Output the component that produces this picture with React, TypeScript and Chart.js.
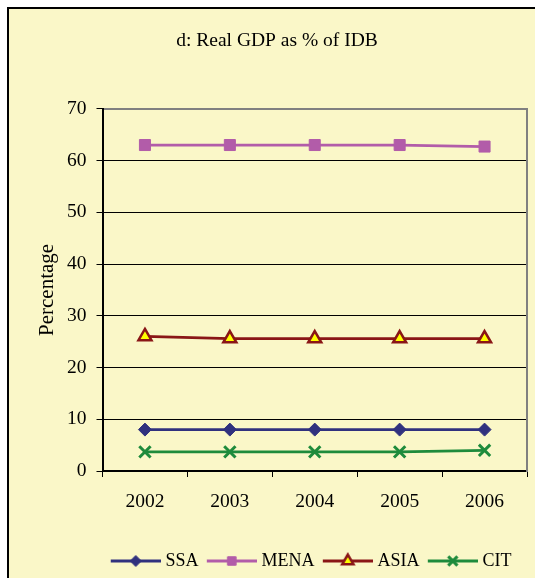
import React, { useEffect, useRef } from "react";
import { Chart, registerables } from "chart.js";
import { drawPoint } from "chart.js/helpers";

Chart.register(...registerables);

const years = ["2002", "2003", "2004", "2005", "2006"];
const ssa = [8.0, 8.0, 8.0, 8.0, 8.0];
const mena = [63.0, 63.0, 63.0, 63.0, 62.7];
const asia = [26.0, 25.6, 25.6, 25.6, 25.6];
const cit = [3.7, 3.7, 3.7, 3.7, 4.0];
const seriesNames = ["SSA", "MENA", "ASIA", "CIT"];
const yMin = 0;
const yMax = 70;
const yStep = 10;
const titleText = "d: Real GDP as % of IDB";
const yTitle = "Percentage";

const FONT = "'Liberation Serif', 'Times New Roman', serif";
const BG = "#FAF7C8";

type Marker = {
  color: string;
  fill: string;
  style: any;
  r: number;
  lr: number;
  bw: number;
};

const markers: Marker[] = [
  { color: "#30317E", fill: "#30317E", style: "rectRot", r: 6.5, lr: 5.5, bw: 1 },
  { color: "#B25CA9", fill: "#B25CA9", style: "rect", r: 7.8, lr: 6, bw: 1 },
  { color: "#8A1616", fill: "#FFFF00", style: "triangle", r: 7.5, lr: 6.5, bw: 2.5 },
  { color: "#1E8B3C", fill: "#1E8B3C", style: "crossRot", r: 8, lr: 6.5, bw: 3 },
];

// legend swatch: a 50px line with the marker in its middle, drawn on a canvas
// that has transparent room on the left so the swatch sits where Excel puts it
function legendImage(m: Marker): HTMLCanvasElement {
  const c = document.createElement("canvas");
  c.width = 62;
  c.height = 18;
  const g = c.getContext("2d")!;
  g.strokeStyle = m.color;
  g.lineWidth = 3;
  g.beginPath();
  g.moveTo(12, 9);
  g.lineTo(62, 9);
  g.stroke();
  g.fillStyle = m.fill;
  g.strokeStyle = m.color;
  g.lineWidth = m.bw;
  drawPoint(g as any, { pointStyle: m.style, radius: m.lr, rotation: 0, borderWidth: m.bw } as any, 37, 9);
  return c;
}

export default function App() {
  const ref = useRef<HTMLCanvasElement | null>(null);

  useEffect(() => {
    if (!ref.current) return;
    const values = [ssa, mena, asia, cit];
    const images = markers.map(legendImage);
    const datasets = values.map((v, i) => ({
      label: seriesNames[i],
      data: v,
      borderColor: markers[i].color,
      backgroundColor: markers[i].fill,
      borderWidth: 2.75,
      pointStyle: markers[i].style,
      pointRadius: markers[i].r,
      pointHoverRadius: markers[i].r,
      pointBackgroundColor: markers[i].fill,
      pointBorderColor: markers[i].color,
      pointBorderWidth: markers[i].bw,
      tension: 0,
      fill: false,
    }));

    const chart = new Chart(ref.current, {
      type: "line",
      data: { labels: years, datasets },
      options: {
        animation: false,
        responsive: false,
        maintainAspectRatio: false,
        layout: { padding: { left: 0, right: 0, top: 0, bottom: 19 } },
        plugins: {
          title: {
            display: true,
            text: titleText,
            color: "#000",
            font: { family: FONT, size: 19.5, weight: "normal" },
            padding: { top: 19.8, bottom: 56.6 },
          },
          legend: {
            display: true,
            position: "bottom",
            fullSize: false,
            align: "start",
            labels: {
              usePointStyle: true,
              pointStyleWidth: 53.5,
              padding: 0.5,
              color: "#000",
              font: { family: FONT, size: 18 },
              generateLabels: (ch: any) => {
                const base = Chart.defaults.plugins.legend.labels.generateLabels(ch);
                return base.map((it: any, i: number) => ({
                  ...it,
                  pointStyle: images[i],
                  lineWidth: 0,
                }));
              },
            },
          },
          tooltip: { enabled: false },
        },
        scales: {
          x: {
            type: "category",
            position: "bottom",
            offset: true,
            grid: {
              offset: true,
              drawOnChartArea: false,
              drawTicks: true,
              tickLength: 6,
              color: "#000",
              tickColor: "#000",
              lineWidth: 1,
            },
            border: { display: true, color: "#000", width: 2 },
            ticks: {
              color: "#000",
              padding: 13.5,
              font: { family: FONT, size: 19.5 },
              maxRotation: 0,
            },
            afterFit: (s: any) => {
              s.height = 80.5;
            },
          },
          x2: {
            type: "category",
            axis: "x",
            position: "top",
            offset: true,
            grid: { drawOnChartArea: false, drawTicks: false },
            border: { display: true, color: "#808080", width: 2 },
            ticks: { display: false },
          },
          y: {
            type: "linear",
            position: "left",
            min: yMin,
            max: yMax,
            ticks: {
              stepSize: yStep,
              color: "#000",
              padding: 10,
              font: { family: FONT, size: 19.5 },
            },
            grid: {
              drawTicks: true,
              tickLength: 6,
              lineWidth: 1,
              tickColor: "#000",
              color: (c: any) => (c.tick && c.tick.value === yMax ? "rgba(0,0,0,0)" : "#000"),
            },
            border: { display: true, color: "#000", width: 2 },
            title: {
              display: true,
              text: yTitle,
              color: "#000",
              font: { family: FONT, size: 21 },
              padding: { top: 26, bottom: 6.8 },
            },
            afterFit: (s: any) => {
              s.width = 93.5;
            },
          },
          y2: {
            type: "linear",
            axis: "y",
            position: "right",
            min: yMin,
            max: yMax,
            grid: { drawOnChartArea: false, drawTicks: false },
            border: { display: true, color: "#808080", width: 2 },
            ticks: { display: false },
            afterFit: (s: any) => {
              s.width = 18;
            },
          },
        },
      } as any,
    });
    return () => chart.destroy();
  }, []);

  return (
    <div
      style={{
        position: "fixed",
        left: 0,
        top: 0,
        width: 535,
        height: 578,
        overflow: "hidden",
        background: "#fff",
      }}
    >
      <div
        style={{
          position: "absolute",
          left: 7,
          top: 7,
          width: 560,
          height: 620,
          border: "2px solid #000",
          background: BG,
        }}
      >
        <canvas
          ref={ref}
          width={536}
          height={590}
          style={{ position: "absolute", left: 0, top: 0, width: 536, height: 590 }}
        />
      </div>
    </div>
  );
}
